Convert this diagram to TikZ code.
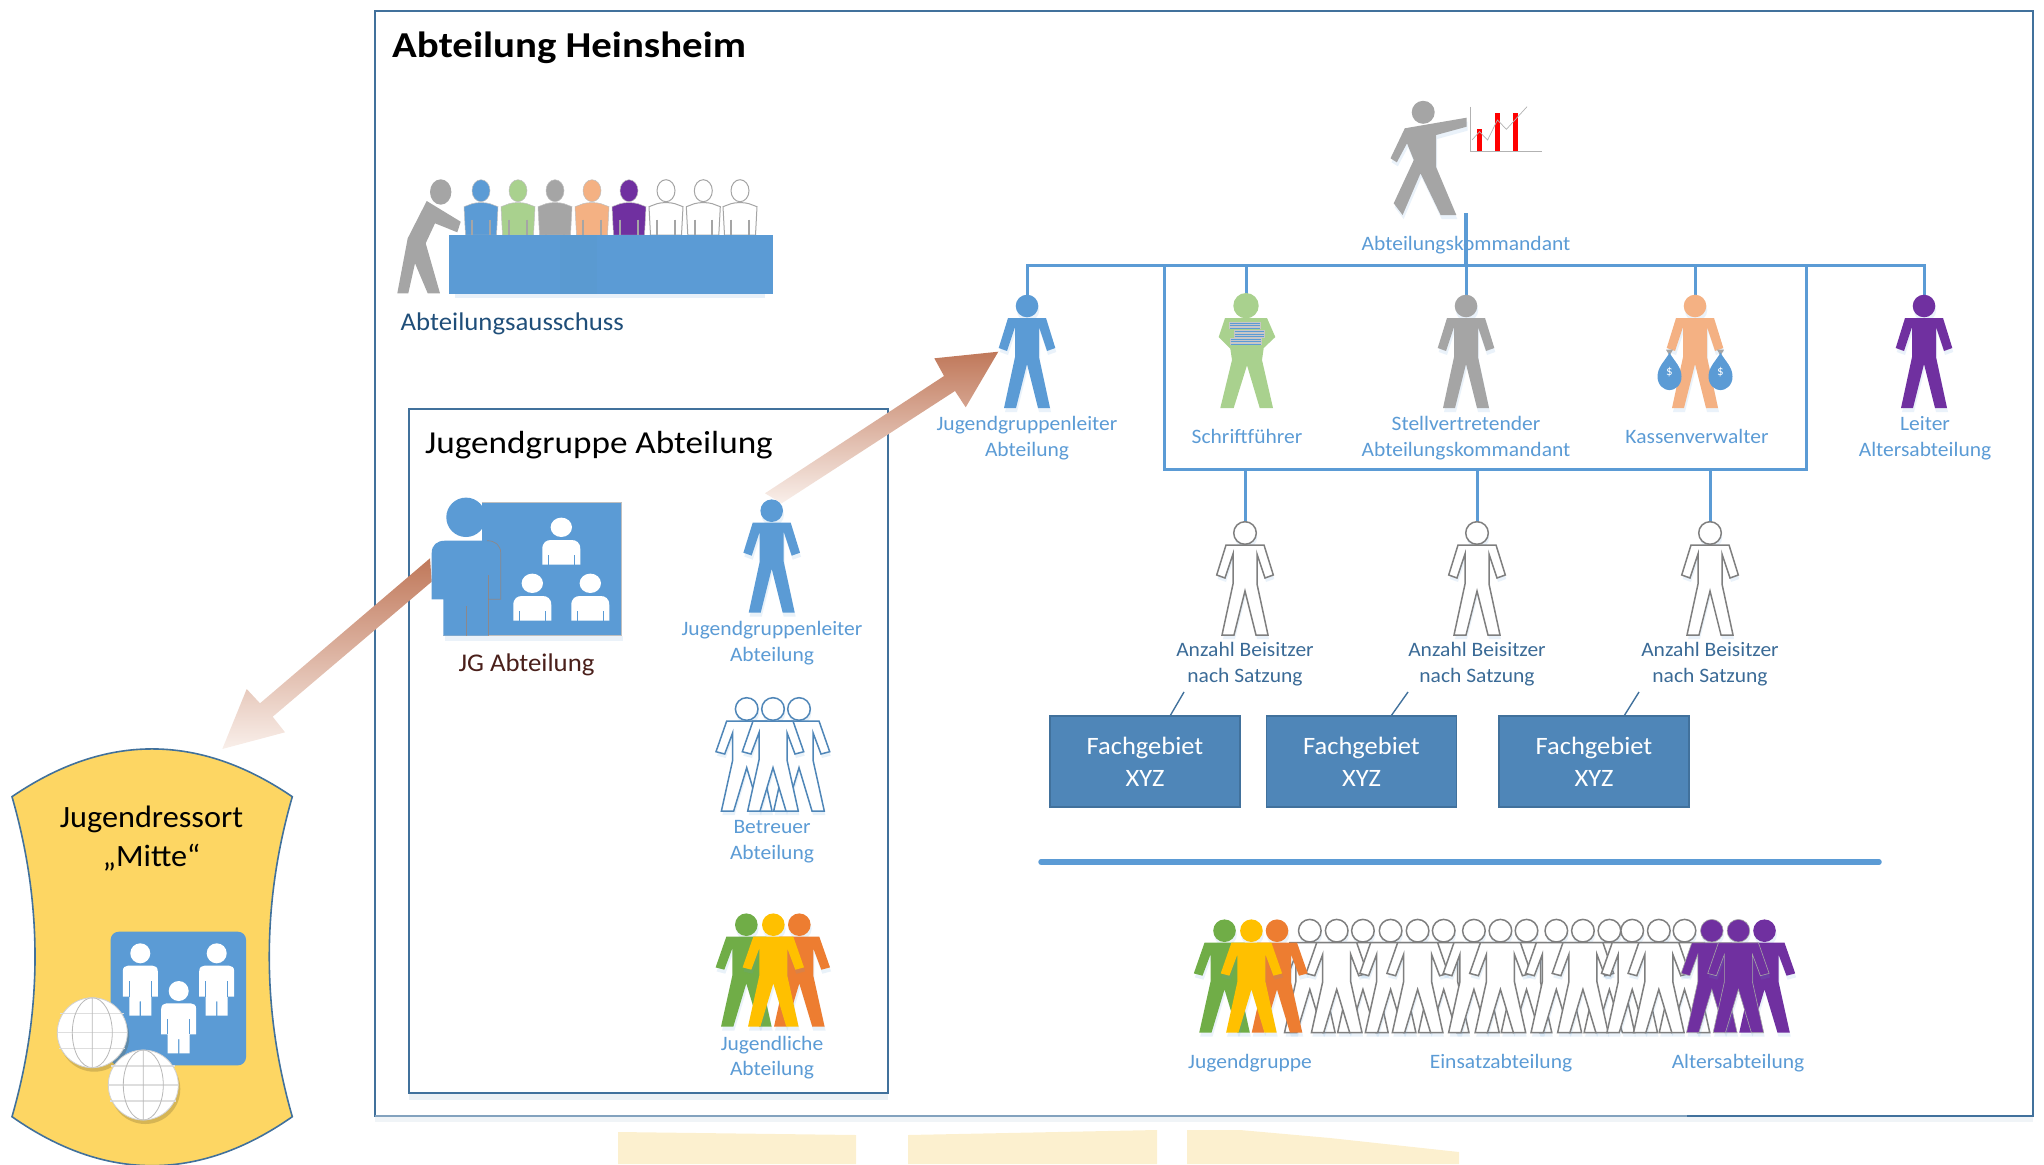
\documentclass[tikz,border=0pt]{standalone}
\usepackage{fontspec}
\setmainfont{Carlito}
\definecolor{mblue}{HTML}{5B9BD5}
\definecolor{tablemid}{HTML}{5A9AD1}
\definecolor{arrowtop}{HTML}{C0785A}
\definecolor{arrowlow}{HTML}{F9EFEA}
\definecolor{frameblue}{HTML}{41719C}
\definecolor{boxblue}{HTML}{4F86B8}
\definecolor{mgray}{HTML}{A5A5A5}
\definecolor{lgreen}{HTML}{A9D18E}
\definecolor{lorange}{HTML}{F4B183}
\definecolor{mpurple}{HTML}{7030A0}
\definecolor{dgreen}{HTML}{70AD47}
\definecolor{myellow}{HTML}{FFC000}
\definecolor{dorange}{HTML}{ED7D31}
\definecolor{outgray}{HTML}{7F7F7F}
\definecolor{ressort}{HTML}{FDD663}
\definecolor{ghost}{HTML}{FCF0CF}
\definecolor{navy}{HTML}{1F4E79}
\definecolor{brownish}{HTML}{4A1F1A}
\definecolor{beis}{HTML}{3A6A96}
\newcommand{\bodyshape}{(-19,12) -- (19,12) -- (28.3,42) -- (20,45) -- (12,21) -- (12,51) -- (23,102) -- (11,102) -- (0,58) -- (-11,102) -- (-23,102) -- (-12,51) -- (-12,21) -- (-20,45) -- (-28.3,42) -- cycle}
\newcommand{\widebody}{(-20,12) -- (20,12) -- (30.7,42.7) -- (22,45) -- (14,23.7) -- (14,51) -- (25.3,102) -- (13,102) -- (0,58.7) -- (-13,102) -- (-25.3,102) -- (-14,51) -- (-14,23.7) -- (-22,45) -- (-30.7,42.7) -- cycle}
\tikzset{
  lbl/.style={text=mblue,inner sep=0pt,outer sep=0pt,align=center,anchor=base,
     font=\fontsize{20.5}{25.7}\selectfont\addfontfeature{FakeStretch=1.05}},
  beislbl/.style={lbl,text=beis},
  conn/.style={draw=mblue,line width=3pt},
  fachbox/.style={draw=frameblue,line width=1.2pt,fill=boxblue,text=white,align=center,inner sep=0pt,
     minimum width=190,minimum height=91,font=\fontsize{25}{32}\selectfont\addfontfeature{FakeStretch=1.06}},
  tick/.style={draw=frameblue,line width=1.4pt},
  solid fig/.style={fill=#1,draw=none},
  line fig/.style={fill=white,draw=#1,line width=1.5pt,line join=miter},
  person/.pic={
    \fill[mblue,opacity=.13,shift={(1,4)}] (0,0) circle (11.3) \bodyshape;
    \path[pic actions] \bodyshape;
    \path[pic actions] (0,0) circle (11.3);
  },
  wideperson/.pic={
    \fill[mblue,opacity=.13,shift={(1,4)}] (0,0) circle (11.3) \widebody;
    \path[pic actions] \widebody;
    \path[pic actions] (0,0) circle (11.3);
  },
  bust/.pic={
    \path[pic actions] (-17,16) -- (-9,13) .. controls (-4,11.5) and (4,11.5) .. (9,13) -- (17,16) -- (15.5,44.3) -- (-15.5,44.3) -- cycle;
    \path[pic actions] (0,0) ellipse (9 and 11);
    \draw[mgray,line width=1.8pt] (-8.7,29) -- (-8.7,44.3) (8.7,29) -- (8.7,44.3);
  },
  childbust/.pic={
    \fill[white] (-19,37.3) -- (-19,22) .. controls (-19,15) and (-15,12.7) .. (-10,12.7) -- (10,12.7) .. controls (15,12.7) and (19,15) .. (19,22) -- (19,37.3) -- cycle;
    \fill[white] (0,0) ellipse (10.7 and 9.7);
    \draw[mblue,line width=1pt] (-13,28) -- (-13,37.3) (13,28) -- (13,37.3);
  },
  whiteperson/.pic={
    \fill[white] (-17.5,43.3) -- (-17.5,18) .. controls (-17.5,14) and (-15,12.3) .. (-12,12.3) -- (12,12.3) .. controls (15,12.3) and (17.5,14) .. (17.5,18) -- (17.5,43.3) -- (11,43.3) -- (11,62.3) -- (0.7,62.3) -- (0.7,48) -- (-0.7,48) -- (-0.7,62.3) -- (-11,62.3) -- (-11,43.3) -- cycle;
    \fill[white] (0,0) circle (10);
    \draw[mblue,line width=.7pt] (-11,28) -- (-11,43.3) (11,28) -- (11,43.3);
  },
  globe/.pic={
    \fill[black!60!ressort,opacity=.25] (2,4) circle (35);
    \fill[white] (0,0) circle (35);
    \draw[black!13,line width=1.2pt] (-32,-19) -- (32,-19) (-35,0) -- (35,0) (-33,16) -- (33,16);
    \draw[black!28,line width=.8pt] (0,-35) -- (0,35) (0,0) ellipse (20 and 35);
    \draw[black!18,line width=.8pt] (0,0) circle (35);
  },
  bookstack/.pic={
    \foreach \xa/\ya/\xb/\yb in {-17.3/16/15/23.3,-12.3/24.3/19.3/31.7,-16.3/32/16/39.3}{
      \fill[black!22] (\xa,\ya) rectangle (\xb,\yb);
      \draw[mblue,line width=.9pt] (\xa+1,\ya+1.4) -- (\xb-1,\ya+1.4) (\xa+1,\ya+3.7) -- (\xb-1,\ya+3.7) (\xa+1,\ya+6) -- (\xb-1,\ya+6);
    }
  },
  moneybag/.pic={
    \fill[mgray] (-3.5,-22) -- (3.5,-22) -- (0,-16) -- cycle;
    \fill[mblue] (0,-19) .. controls (-5,-10) and (-12,-5) .. (-12,5) .. controls (-12,14) and (-5,18.5) .. (0,18.5) .. controls (5,18.5) and (12,14) .. (12,5) .. controls (12,-5) and (5,-10) .. (0,-19) -- cycle;
  },
}
\begin{document}
\begin{tikzpicture}[x=1pt,y=-1pt]
\clip (0,0) rectangle (2044,1164);
% faint reflection below the frame
\fill[ghost] (618,1132) -- (856,1135) -- (856,1164) -- (618,1164) -- cycle;
\fill[ghost] (908,1135) -- (1157,1130) -- (1157,1164) -- (908,1164) -- cycle;
\fill[ghost] (1187,1130) -- (1240,1130) -- (1330,1138) -- (1459,1152) -- (1459,1164) -- (1187,1164) -- cycle;
% frames
\fill[frameblue,opacity=.08] (375,1116) rectangle (2033,1122);
\fill[frameblue,opacity=.10] (409,1093) rectangle (888,1100);
\node[draw=frameblue,line width=1.6pt,inner sep=0pt,minimum width=1658,minimum height=1105] (frame) at (1204,563.3) {};
\node[draw=frameblue,line width=1.6pt,inner sep=0pt,minimum width=479,minimum height=684,fill=white] (jgframe) at (648.3,751) {};
\draw[white,opacity=.35,line width=1.6pt] (375,1115.8) -- (1687,1115.8);
% texts
\node[anchor=base west,inner sep=0pt,font=\fontsize{36.5}{40}\selectfont\bfseries\addfontfeature{FakeStretch=1.12}] (title) at (392,57) {Abteilung Heinsheim};
\node[anchor=base west,inner sep=0pt,font=\fontsize{32}{36}\selectfont\addfontfeature{FakeStretch=1.1}] (jgtitle) at (425,453) {Jugendgruppe Abteilung};
\node[anchor=base west,inner sep=0pt,text=navy,font=\fontsize{25.5}{28}\selectfont\addfontfeature{FakeStretch=1.05}] (aus) at (400.5,330) {Abteilungsausschuss};
\node[anchor=base,inner sep=0pt,text=brownish,font=\fontsize{25.5}{28}\selectfont\addfontfeature{FakeStretch=1.05}] (jgab) at (526.5,671) {JG Abteilung};
\node[lbl] (lkdt) at (1466,250) {Abteilungskommandant};
\node[lbl] (ljgl) at (1027,456.5) {Jugendgruppenleiter\\Abteilung};
\node[lbl] (lsch) at (1247,443) {Schriftführer};
\node[lbl] (lste) at (1466,456.5) {Stellvertretender\\Abteilungskommandant};
\node[lbl] (lkas) at (1697,443) {Kassenverwalter};
\node[lbl] (llei) at (1925,456.5) {Leiter\\Altersabteilung};
\node[lbl] (ljgl2) at (772,661) {Jugendgruppenleiter\\Abteilung};
\node[lbl] (lbet) at (772,859.5) {Betreuer\\Abteilung};
\node[lbl] (ljug) at (772,1075.7) {Jugendliche\\Abteilung};
\node[lbl] (lgrp) at (1250,1068) {Jugendgruppe};
\node[lbl] (lein) at (1501,1068) {Einsatzabteilung};
\node[lbl] (lalt) at (1738,1068) {Altersabteilung};
\node[beislbl] (bl1) at (1245,682) {Anzahl Beisitzer\\nach Satzung};
\node[beislbl] (bl2) at (1477,682) {Anzahl Beisitzer\\nach Satzung};
\node[beislbl] (bl3) at (1710,682) {Anzahl Beisitzer\\nach Satzung};
% named anchors
\coordinate (hJgl) at (1027,306);
\coordinate (hSch) at (1246,306);
\coordinate (hSte) at (1466,306);
\coordinate (hKas) at (1695,306);
\coordinate (hLei) at (1924,306);
\coordinate (hB1) at (1245,533);
\coordinate (hB2) at (1477,533);
\coordinate (hB3) at (1710,533);
\coordinate (kdtfoot) at (1466,213);
\coordinate (busL) at (1027,265);
\coordinate (busR) at (1924,265);
\coordinate (busM) at (1466,265);
\node[draw=mblue,line width=3pt,inner sep=0pt,minimum width=642,minimum height=204] (board) at (1485,367) {};
% connectors
\draw[conn,line width=3.6pt] (kdtfoot) -- (busM);
\draw[conn] (hJgl) -- (busL) -- (busR) -- (hLei);
\draw[conn] (hSch) -- (hSch |- busL);
\draw[conn] (hSte) -- (busM);
\draw[conn] (hKas) -- (hKas |- busL);
\draw[conn] (hB1) -- (hB1 |- board.south);
\draw[conn] (hB2) -- (hB2 |- board.south);
\draw[conn] (hB3) -- (hB3 |- board.south);
% Fachgebiet boxes
\node[fachbox] (f1) at (1145,761.5) {Fachgebiet\\XYZ};
\node[fachbox] (f2) at (1361.5,761.5) {Fachgebiet\\XYZ};
\node[fachbox] (f3) at (1594,761.5) {Fachgebiet\\XYZ};
\coordinate (t1) at (1184,692); \coordinate (t2) at (1408,692); \coordinate (t3) at (1639,692);
\draw[tick] (1170,716) -- (t1);
\draw[tick] (1391,716) -- (t2);
\draw[tick] (1624,716) -- (t3);
% divider
\coordinate (divL) at (1041,862); \coordinate (divR) at (1879,862);
\draw[draw=mblue,line width=5.5pt,line cap=round] (divL) -- (divR);
% committee
\foreach \xx/\cc in {481/mblue,518/lgreen,555/mgray,592/lorange,629/mpurple}{
  \pic[fill=\cc,draw=black!25,line width=.5pt] at (\xx,190.7) {bust};
}
\foreach \xx in {666,703.3,740}{
  \pic[fill=white,draw=mgray,line width=1pt] at (\xx,190.7) {bust};
}
\fill[mblue,opacity=.15] (455,293) rectangle (765,298);
\fill[mblue] (449,235) rectangle (773,293.7);
\fill[tablemid] (560,235) rectangle (597,293.7);
\fill[mgray] (440.7,192) ellipse (10.7 and 12.7);
\fill[mgray] (426.7,201) -- (460.7,221.7) -- (457.3,232.3) -- (435,223.3) -- (425.7,243.3) -- (440,293.3) -- (427.7,293.3) -- (415,263.3) -- (408.3,293.3) -- (397.3,293.3) -- (407.7,238.3) -- cycle;
% commander + chart
\fill[mblue,opacity=.13,shift={(1,4)}] (1404.8,128.3) -- (1466.6,117.7) -- (1466.6,126.7) -- (1436.2,135) -- (1436.2,167.3) -- (1456.3,215) -- (1440.6,215) -- (1420.5,173.3) -- (1402.6,215) -- (1393.7,203.3) -- (1413.8,160) -- (1407,143.3) -- (1396.8,162.3) -- (1390.5,158.3) -- cycle;
\fill[mgray] (1423.2,112.3) circle (11.5);
\fill[mgray] (1404.8,128.3) -- (1466.6,117.7) -- (1466.6,126.7) -- (1436.2,135) -- (1436.2,167.3) -- (1456.3,215) -- (1440.6,215) -- (1420.5,173.3) -- (1402.6,215) -- (1393.7,203.3) -- (1413.8,160) -- (1407,143.3) -- (1396.8,162.3) -- (1390.5,158.3) -- cycle;
\fill[red] (1476.9,129.3) rectangle (1482.2,151);
\fill[red] (1494.7,112.7) rectangle (1500,151);
\fill[red] (1512.6,112.7) rectangle (1518,151);
\draw[black!30,line width=.8pt] (1470.6,106.7) -- (1470.6,151) -- (1542,151);
\draw[black!30,line width=.7pt] (1472,140) -- (1479.5,131.7) -- (1487.6,140) -- (1497.4,120) -- (1506.4,129.3) -- (1527,106.7);
% arrows
\shade[top color=arrowtop,bottom color=arrowlow] (998.3,351.7) -- (934.3,358.3) -- (944,376) -- (765,493.3) -- (781.7,503.3) -- (955,391) -- (965.7,407.3) -- cycle;
\shade[top color=arrowtop,bottom color=arrowlow] (430,558.3) -- (431.7,581.7) -- (272.7,716.7) -- (285,732.3) -- (222.3,749) -- (246.7,689) -- (260,703.3) -- cycle;
% top row figures
\pic[solid fig=mblue] at (hJgl) {person};
\pic[solid fig=mgray] at (hSte) {person};
\pic[solid fig=lorange] at (hKas) {person};
\pic[solid fig=mpurple] at (hLei) {person};
\fill[lgreen] (hSch) ++(0,-.3) circle (12.7);
\fill[lgreen,shift={(hSch)}] (-21,12) -- (21,12) -- (29.3,31) -- (17.7,42) -- (16,54) -- (27,102) -- (13.7,102) -- (1,59.3) -- (-12.3,102) -- (-25.7,102) -- (-14,54) -- (-15.7,42.7) -- (-27.3,31) -- cycle;
\pic at (hSch) {bookstack};
\pic at (1669.5,371.7) {moneybag};
\pic at (1720.5,371.7) {moneybag};
\node[text=white,font=\fontsize{13}{13}\selectfont,inner sep=0pt] (d1) at (1669.5,372) {\$};
\node[text=white,font=\fontsize{13}{13}\selectfont,inner sep=0pt] (d2) at (1720.5,372) {\$};
% Beisitzer
\pic[line fig=outgray] at (hB1) {person};
\pic[line fig=outgray] at (hB2) {person};
\pic[line fig=outgray] at (hB3) {person};
% JG icon
\fill[mblue,opacity=.12] (445,636) rectangle (623,641);
\fill[mblue] (481.7,502.3) rectangle (621,635.7);
\draw[black!25,line width=.6pt] (481.7,502.3) -- (621,502.3) -- (621,635.7) -- (443.3,635.7);
\fill[mblue] (466,517.3) circle (19.7);
\fill[mblue] (431.7,599.3) -- (431.7,553) .. controls (431.7,545) and (437,540.7) .. (445,540.7) -- (487,540.7) .. controls (495,540.7) and (500.7,545) .. (500.7,553) -- (500.7,599.3) -- (488.3,599.3) -- (488.3,635.7) -- (443.3,635.7) -- (443.3,599.3) -- cycle;
\draw[black!30!lorange,opacity=.6,line width=.7pt] (488.3,575) -- (488.3,635.7) (466,606) -- (466,635.7);
\draw[black!30!lorange,opacity=.6,line width=.7pt] (487,540.7) .. controls (495,540.7) and (500.7,545) .. (500.7,553) -- (500.7,599.3) -- (488.3,599.3);
\pic at (561.3,527.3) {childbust};
\pic at (532.3,583.3) {childbust};
\pic at (590.3,583.3) {childbust};
% JG people
\pic[solid fig=mblue] at (771.7,510.7) {person};
\pic[line fig=boxblue] at (746.7,709) {wideperson};
\pic[line fig=boxblue] at (799,709) {wideperson};
\pic[line fig=boxblue] at (773,709) {wideperson};
\pic[solid fig=dgreen] at (746.3,924.7) {wideperson};
\pic[solid fig=dorange] at (799.3,924.7) {wideperson};
\pic[solid fig=myellow] at (773.3,924.7) {wideperson};
% crowd: in each group of three the middle figure stands in front
\foreach \xx in {1309.8,1362.9,1336.7,1390.6,1443.7,1417.6,1473.9,1526.5,1500.4,1556.3,1609.4,1582.9,1632.2,1684.5,1658.8}{
  \pic[line fig=outgray] at (\xx,930.7) {wideperson};
}
\pic[solid fig=dorange] at (1277,930.7) {wideperson};
\pic[solid fig=dgreen] at (1224.5,930.7) {wideperson};
\pic[solid fig=myellow] at (1251.4,930.7) {wideperson};
\pic[solid fig=mpurple] at (1764.5,930.7) {wideperson};
\pic[solid fig=mpurple,draw=black!35,line width=.6pt] at (1711.8,930.7) {wideperson};
\pic[solid fig=mpurple,draw=black!35,line width=.6pt] at (1738.4,930.7) {wideperson};
% Ressort
\node[coordinate] (rTL) at (12,796.7) {};
\node[coordinate] (rTR) at (292.3,796.7) {};
\node[coordinate] (rBR) at (292.3,1116.7) {};
\node[coordinate] (rBL) at (12,1116.7) {};
\path[fill=ressort,draw=frameblue,line width=1.6pt] (rTL) .. controls (105,733) and (199,733) .. (rTR) .. controls (261.6,903) and (261.6,1010) .. (rBR) .. controls (199,1182) and (105,1182) .. (rBL) .. controls (42.7,1010) and (42.7,903) .. (rTL) -- cycle;
\node[inner sep=0pt,anchor=base,font=\fontsize{31}{39}\selectfont\addfontfeature{FakeStretch=1.04},align=center] (rtxt) at (151.5,866.5) {Jugendressort\\„Mitte“};
\fill[mblue,rounded corners=8pt] (110.7,931.7) rectangle (246,1065.3);
\pic at (140.3,953.3) {whiteperson};
\pic at (216.7,953.3) {whiteperson};
\pic at (178.7,991) {whiteperson};
\pic at (92.3,1032.7) {globe};
\pic at (143.3,1085) {globe};
\end{tikzpicture}
\end{document}
